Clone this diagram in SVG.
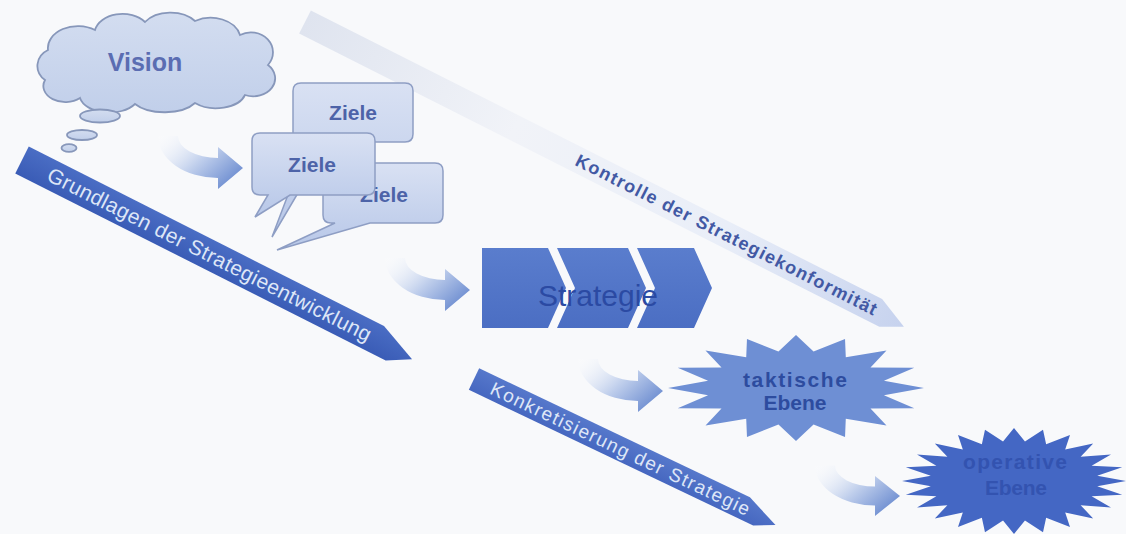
<svg xmlns="http://www.w3.org/2000/svg" xmlns:xlink="http://www.w3.org/1999/xlink" width="1126" height="534" viewBox="0 0 1126 534">
<defs>
  <linearGradient id="gBubble" x1="0" y1="0" x2="0" y2="1">
    <stop offset="0" stop-color="#d9e1f3"/>
    <stop offset="1" stop-color="#b7c7e8"/>
  </linearGradient>
  <linearGradient id="gCloud" x1="0" y1="0" x2="0" y2="1">
    <stop offset="0" stop-color="#d3ddf0"/>
    <stop offset="1" stop-color="#c1cfea"/>
  </linearGradient>
  <linearGradient id="gBand" x1="0" y1="0" x2="0" y2="1">
    <stop offset="0" stop-color="#4a6dc4"/>
    <stop offset="1" stop-color="#3a5cb6"/>
  </linearGradient>
  <linearGradient id="gBand2" x1="0" y1="0" x2="0" y2="1">
    <stop offset="0" stop-color="#5678cb"/>
    <stop offset="1" stop-color="#4667c0"/>
  </linearGradient>
  <linearGradient id="gKontrolle" x1="0" y1="0" x2="1" y2="0">
    <stop offset="0" stop-color="#dfe4ef"/>
    <stop offset="0.35" stop-color="#f1f3f8"/>
    <stop offset="0.7" stop-color="#e9eef8"/>
    <stop offset="1" stop-color="#c6d2ee"/>
  </linearGradient>
  <linearGradient id="gChevron" x1="0" y1="0" x2="0" y2="1">
    <stop offset="0" stop-color="#5a7dcd"/>
    <stop offset="1" stop-color="#4b6ec3"/>
  </linearGradient>
  <linearGradient id="gArrow" x1="0" y1="0" x2="1" y2="0.7">
    <stop offset="0" stop-color="#ffffff" stop-opacity="0.1"/>
    <stop offset="0.55" stop-color="#c0cfec"/>
    <stop offset="1" stop-color="#6e8ed1"/>
  </linearGradient>
  <path id="curvedArrow" d="M0,0 L-25,-21 L-25,-10 A40,22 0 0 1 -65,-32 L-85,-32 A60,42 0 0 0 -25,10 L-25,21 Z"/>
</defs>
<style>
  .bg { fill: #f8f9fb; }
  .bubble { fill: url(#gBubble); stroke: #8e9ec4; stroke-width: 1.5; }
  .cloud { fill: url(#gCloud); stroke: #8797ba; stroke-width: 1.8; }
  .chev { fill: url(#gChevron); }
  .arrow { fill: url(#gArrow); }
  .t { font-family: "Liberation Sans", Arial, sans-serif; }
  .ziele { font-size: 21px; font-weight: bold; fill: #4d63a8; text-anchor: middle; }
  .bandtxt { fill: #dde6f7; text-anchor: middle; }
  .ktxt { font-size: 18px; font-weight: bold; fill: #4259a4; text-anchor: middle; }
  .star { font-size: 21px; font-weight: bold; text-anchor: middle; }
</style>
<rect class="bg" x="0" y="0" width="1126" height="534"/>

<g id="band-kontrolle" transform="translate(305,22) rotate(26.8)">
  <polygon points="0,-13 640,-13 672,2 650,13 0,13" fill="url(#gKontrolle)"/>
  <text class="t ktxt" x="472" y="6" textLength="335">Kontrolle der Strategiekonformität</text>
</g>

<g id="band-grundlagen" transform="translate(22,160) rotate(26.8)">
  <polygon points="0,-15 398,-15 438,2 415,15 0,15" fill="url(#gBand)"/>
  <text class="t bandtxt" x="210" y="7" font-size="21" textLength="360">Grundlagen der Strategieentwicklung</text>
</g>

<g id="band-konkretisierung" transform="translate(474,379) rotate(25.5)">
  <polygon points="0,-12 300,-12 335,2 315,12 0,12" fill="url(#gBand2)"/>
  <text class="t bandtxt" x="162" y="6.5" font-size="19" textLength="285">Konkretisierung der Strategie</text>
</g>

<g id="connectors">
  <use xlink:href="#curvedArrow" href="#curvedArrow" class="arrow" transform="translate(243,168)"/>
  <use xlink:href="#curvedArrow" href="#curvedArrow" class="arrow" transform="translate(470,290)"/>
  <use xlink:href="#curvedArrow" href="#curvedArrow" class="arrow" transform="translate(663,391)"/>
  <use xlink:href="#curvedArrow" href="#curvedArrow" class="arrow" transform="translate(900,496) scale(1,0.95)"/>
</g>

<g id="vision">
  <path class="cloud" d="M45,80 A20,18 0 0 1 48,50 A30,22 0 0 1 95,30 A28,20 0 0 1 145,22 A30,20 0 0 1 195,21 A30,22 0 0 1 240,35 A22,20 0 0 1 268,65 A22,18 0 0 1 245,95 A30,18 0 0 1 195,103 A35,18 0 0 1 135,104 A30,18 0 0 1 80,98 A22,16 0 0 1 45,80 Z"/>
  <ellipse class="cloud" cx="100" cy="116" rx="20" ry="6.5"/>
  <ellipse class="cloud" cx="82" cy="135" rx="15" ry="5"/>
  <ellipse class="cloud" cx="69" cy="148" rx="7.5" ry="3.8"/>
  <text class="t" x="145" y="71" font-size="25" font-weight="bold" fill="#5b6db2" text-anchor="middle">Vision</text>
</g>

<g id="ziele-top">
  <path class="bubble" d="M301,83 H405 Q413,83 413,91 V134 Q413,142 405,142 H328 L272,237 L308,142 H301 Q293,142 293,134 V91 Q293,83 301,83 Z"/>
  <text class="t ziele" x="353" y="120">Ziele</text>
</g>

<g id="ziele-right">
  <path class="bubble" d="M331,163 H435 Q443,163 443,171 V215 Q443,223 435,223 H370 L277,250 L335,223 H331 Q323,223 323,215 V171 Q323,163 331,163 Z"/>
  <text class="t ziele" x="384" y="202">Ziele</text>
</g>

<g id="ziele-middle">
  <path class="bubble" d="M260,133 H367 Q375,133 375,141 V187 Q375,195 367,195 H290 L255,217 L268,195 H260 Q252,195 252,187 V141 Q252,133 260,133 Z"/>
  <text class="t ziele" x="312" y="172">Ziele</text>
</g>

<g id="strategie">
  <polygon class="chev" points="482,248 548,248 566,288 548,328 482,328"/>
  <polygon class="chev" points="557,248 628,248 646,288 628,328 557,328 575,288"/>
  <polygon class="chev" points="637,248 694,248 712,288 694,328 637,328 655,288"/>
  <text class="t" x="598" y="306" font-size="30" fill="#2b4aa3" text-anchor="middle">Strategie</text>
</g>

<g id="taktische-ebene">
  <polygon transform="translate(796,388) scale(1.28,0.53)" fill="#6e8fd4" points="100,0 68.7,13.7 92.4,38.3 58.2,38.9 70.7,70.7 38.9,58.2 38.3,92.4 13.7,68.7 0,100 -13.7,68.7 -38.3,92.4 -38.9,58.2 -70.7,70.7 -58.2,38.9 -92.4,38.3 -68.7,13.7 -100,0 -68.7,-13.7 -92.4,-38.3 -58.2,-38.9 -70.7,-70.7 -38.9,-58.2 -38.3,-92.4 -13.7,-68.7 0,-100 13.7,-68.7 38.3,-92.4 38.9,-58.2 70.7,-70.7 58.2,-38.9 92.4,-38.3 68.7,-13.7"/>
  <text class="t star" x="795" y="387" fill="#2d4c9f" textLength="104">taktische</text>
  <text class="t star" x="795" y="410" fill="#2d4c9f" textLength="63">Ebene</text>
</g>

<g id="operative-ebene">
  <polygon transform="translate(1014,481) scale(1.12,0.53)" fill="#4467c4" points="100,0 74.3,9.8 96.6,25.9 69.3,28.7 86.6,50 59.5,45.7 70.7,70.7 45.7,59.5 50,86.6 28.7,69.3 25.9,96.6 9.8,74.3 0,100 -9.8,74.3 -25.9,96.6 -28.7,69.3 -50,86.6 -45.7,59.5 -70.7,70.7 -59.5,45.7 -86.6,50 -69.3,28.7 -96.6,25.9 -74.3,9.8 -100,0 -74.3,-9.8 -96.6,-25.9 -69.3,-28.7 -86.6,-50 -59.5,-45.7 -70.7,-70.7 -45.7,-59.5 -50,-86.6 -28.7,-69.3 -25.9,-96.6 -9.8,-74.3 0,-100 9.8,-74.3 25.9,-96.6 28.7,-69.3 50,-86.6 45.7,-59.5 70.7,-70.7 59.5,-45.7 86.6,-50 69.3,-28.7 96.6,-25.9 74.3,-9.8"/>
  <text class="t star" x="1015" y="469" fill="#3353b0" textLength="104">operative</text>
  <text class="t star" x="1016" y="495" fill="#3353b0" textLength="62">Ebene</text>
</g>
</svg>
